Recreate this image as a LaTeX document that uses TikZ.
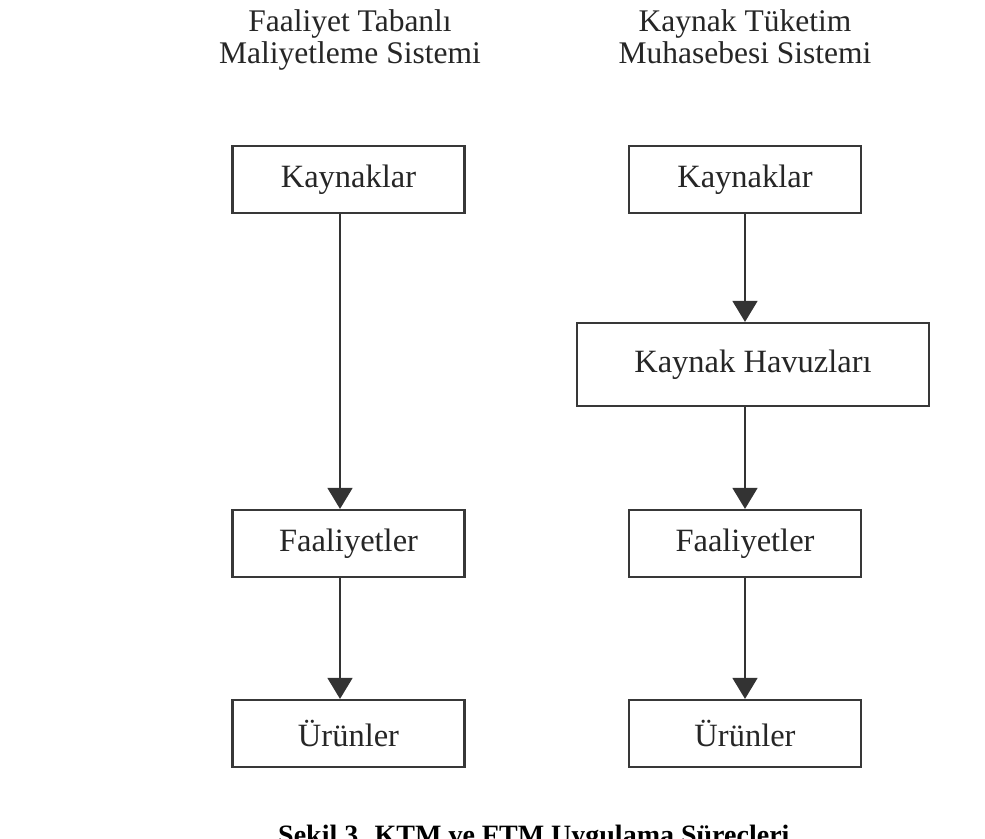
\documentclass[tikz,border=0pt]{standalone}
\usepackage{fontspec}
\setmainfont{Liberation Serif}
\usetikzlibrary{arrows.meta,positioning}

\begin{document}
\begin{tikzpicture}[
    x=1pt, y=-1pt,
    stage/.style={draw=black!78, line width=2.2pt, minimum width=232pt,
      minimum height=67pt, inner sep=0pt, text=black!85,
      font=\fontsize{32.5}{33}\selectfont},
    flow/.style={draw=black!80, line width=1.6pt,
      -{Triangle[width=25pt,length=21pt]}},
    heading/.style={align=center, inner sep=0pt, anchor=north, text=black!85,
      font=\fontsize{31.5}{32}\selectfont},
  ]
  \useasboundingbox[fill=white] (0,0) rectangle (985,838);

  % headings
  \node[heading] (headFTM) at (350,9) {Faaliyet Tabanlı\\Maliyetleme Sistemi};
  \node[heading] (headKTM) at (745,9) {Kaynak Tüketim\\Muhasebesi Sistemi};

  % left column
  \node[stage] (kaynakL) at (348.5,179.5) {Kaynaklar};
  \node[stage] (faalL) at (348.5,543.5) {Faaliyetler};
  \node[stage] (urunL) at (348.5,733.5) {Ürünler};

  % right column
  \node[stage] (kaynakR) at (745,179.5) {Kaynaklar};
  \node[stage, minimum width=352pt, minimum height=83pt] (havuz) at (753,364.5) {Kaynak Havuzları};
  \node[stage] (faalR) at (745,543.5) {Faaliyetler};
  \node[stage] (urunR) at (745,733.5) {Ürünler};

  \draw[flow] ([xshift=-8.5pt]kaynakL.south) -- ([xshift=-8.5pt]faalL.north);
  \draw[flow] ([xshift=-8.5pt]faalL.south) -- ([xshift=-8.5pt]urunL.north);
  \draw[flow] (kaynakR.south) -- ([xshift=-8pt]havuz.north);
  \draw[flow] ([xshift=-8pt]havuz.south) -- (faalR.north);
  \draw[flow] (faalR.south) -- (urunR.north);

  \node[anchor=north west, inner sep=0pt, font=\fontsize{28}{28}\bfseries\selectfont]
    (caption) at (278,825) {Şekil 3. KTM ve FTM Uygulama Süreçleri};
\end{tikzpicture}
\end{document}
